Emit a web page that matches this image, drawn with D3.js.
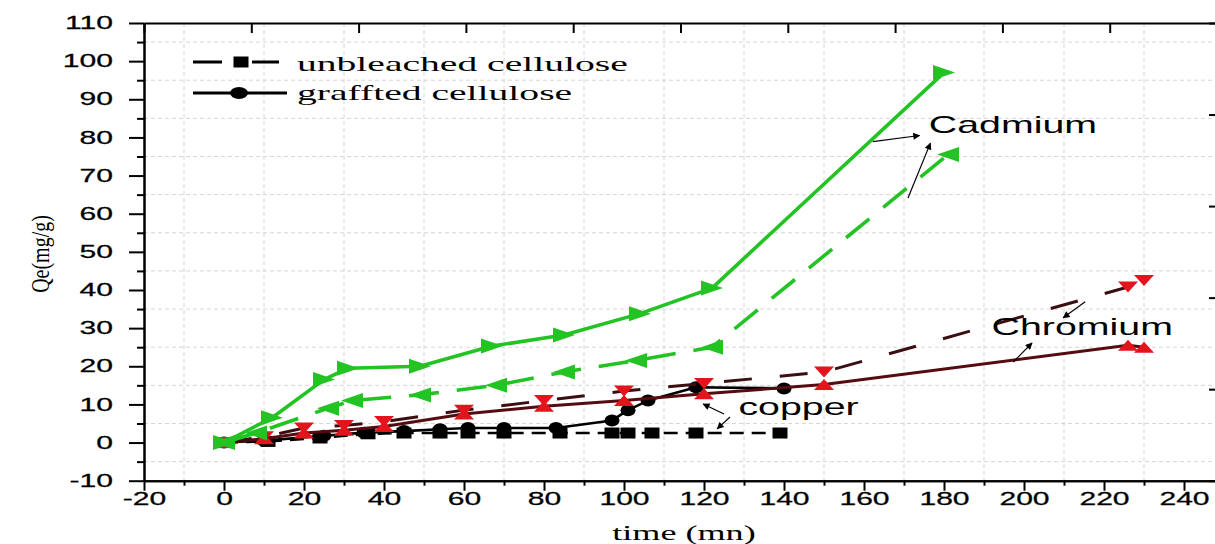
<!DOCTYPE html>
<html>
<head>
<meta charset="utf-8">
<script src="https://cdn.jsdelivr.net/npm/d3@7"></script>
<style>
  html, body { margin: 0; padding: 0; background: #ffffff; }
  svg { display: block; }
</style>
</head>
<body>
<svg id="chart" width="1215" height="544"></svg>
<script>
// Adsorption capacity Qe (mg/g) against contact time (mn)
// for unbleached (dashed) and grafted (solid) cellulose.

const xTickValues = [-20, 0, 20, 40, 60, 80, 100, 120, 140, 160, 180, 200, 220, 240];
const xMinorValues = [-10, 10, 30, 50, 70, 90, 110, 130, 150, 170, 190, 210, 230];
const yTickValues = [-10, 0, 10, 20, 30, 40, 50, 60, 70, 80, 90, 100, 110];
const yMinorValues = [-5, 5, 15, 25, 35, 45, 55, 65, 75, 85, 95, 105];

// Copper
const cuUnbleachedTime = [0, 11, 24, 36, 45, 54, 61, 70, 84, 97, 101, 107, 118, 139];
const cuUnbleachedQe   = [0, 0.3, 1.2, 2.3, 2.5, 2.5, 2.5, 2.5, 2.5, 2.5, 2.5, 2.5, 2.5, 2.5];
const cuGraftedTime    = [0, 10, 25, 35, 45, 54, 61, 70, 83, 97, 101, 106, 118, 140];
const cuGraftedQe      = [0, 0.5, 1.8, 2.6, 3.0, 3.5, 3.8, 3.8, 3.8, 5.8, 8.5, 11.0, 14.5, 14.2];

// Chromium
const crUnbleachedTime = [0, 10, 20, 30, 40, 60, 80, 100, 120, 150, 226, 230];
const crUnbleachedQe   = [0, 1.5, 3.8, 4.5, 5.5, 8.5, 11.0, 13.5, 15.5, 18.5, 40.8, 42.5];
const crGraftedTime    = [0, 10, 20, 30, 40, 60, 80, 100, 120, 150, 226, 230];
const crGraftedQe      = [0, 1.0, 2.5, 3.2, 4.2, 7.5, 9.5, 11.0, 12.8, 15.2, 25.5, 25.0];

// Cadmium
const cdUnbleachedTime = [0, 8, 26, 32, 49, 68, 85, 103, 122, 181];
const cdUnbleachedQe   = [0, 2.5, 9.0, 11.0, 12.5, 15.0, 18.5, 21.5, 25.0, 75.5];
const cdGraftedTime    = [0, 12, 25, 31, 49, 67, 85, 104, 122, 180];
const cdGraftedQe      = [0, 6.5, 16.5, 19.5, 20.0, 25.3, 28.2, 33.8, 40.5, 97.0];

const legendLabels = ["unbleached cellulose", "graffted cellulose"];

// Metal labels and their pointer arrows, in data units
const metalLabels = [
  { text: "Cadmium",  t: 176.2, v: 81.1 },
  { text: "Chromium", t: 191.9, v: 28.2 },
  { text: "copper",   t: 128.6, v: 7.2 }
];
const pointerArrows = [
  { t0: 162.2, v0: 78.9, t1: 173.9, v1: 80.5 },
  { t0: 171.0, v0: 64.1, t1: 176.6, v1: 78.5 },
  { t0: 215.3, v0: 36.9, t1: 209.8, v1: 32.7 },
  { t0: 197.3, v0: 21.1, t1: 202.0, v1: 26.1 },
  { t0: 125.0, v0: 7.5,  t1: 119.8, v1: 10.1 },
  { t0: 126.5, v0: 6.7,  t1: 123.3, v1: 3.6 }
];

const zip = (ts, vs) => ts.map((t, i) => ({ t: t, v: vs[i] }));

const svg = d3.select("#chart");
const plotLeft = 144, plotRight = 1217, plotTop = 23, plotBottom = 480.7;

const x = d3.scaleLinear().domain([-20, 248.25]).range([plotLeft, plotRight]);
const y = d3.scaleLinear().domain([-10, 110]).range([plotBottom, plotTop]);

const SANS = "'Liberation Sans', Arial, sans-serif";
const SERIF = "'Liberation Serif', 'Times New Roman', serif";
const TICK_SX = 1.72;
const plainNumber = d => String(d);

// ---- grid (at the minor positions) ----
const grid = svg.append("g").attr("stroke", "#d6d6d6").attr("stroke-width", 1)
  .attr("stroke-dasharray", "4,3");
grid.selectAll("line.vx").data(xMinorValues).join("line").attr("class", "vx")
  .attr("x1", d => x(d)).attr("x2", d => x(d)).attr("y1", plotTop).attr("y2", plotBottom);
grid.selectAll("line.hy").data(yMinorValues).join("line").attr("class", "hy")
  .attr("y1", d => y(d)).attr("y2", d => y(d)).attr("x1", plotLeft).attr("x2", plotRight);

// ---- axes ----
function styleAxis(g) {
  g.select(".domain").attr("stroke", "#000").attr("stroke-width", 2);
  g.selectAll(".tick line").attr("stroke", "#000").attr("stroke-width", 2);
}

const xAxis = svg.append("g").attr("transform", `translate(0,${plotBottom})`)
  .call(d3.axisBottom(x).tickValues(xTickValues).tickFormat(plainNumber)
    .tickSize(10).tickSizeOuter(0).tickPadding(1.5));
styleAxis(xAxis);
xAxis.selectAll(".tick text")
  .attr("font-family", SANS).attr("font-size", 17.5).attr("fill", "#000")
  .attr("stroke", "#000").attr("stroke-width", 0.25)
  .attr("transform", `scale(${TICK_SX},1)`);

const xMinor = svg.append("g").attr("transform", `translate(0,${plotBottom})`)
  .call(d3.axisBottom(x).tickValues(xMinorValues).tickSize(5).tickSizeOuter(0).tickFormat(""));
styleAxis(xMinor);

const yAxis = svg.append("g").attr("transform", `translate(${plotLeft},0)`)
  .call(d3.axisLeft(y).tickValues(yTickValues).tickFormat(plainNumber)
    .tickSize(15).tickSizeOuter(0).tickPadding(16));
styleAxis(yAxis);
yAxis.selectAll(".tick text")
  .attr("font-family", SANS).attr("font-size", 17.5).attr("fill", "#000")
  .attr("stroke", "#000").attr("stroke-width", 0.25)
  .attr("x", -31 / TICK_SX)
  .attr("transform", `scale(${TICK_SX},1)`);

const yMinor = svg.append("g").attr("transform", `translate(${plotLeft},0)`)
  .call(d3.axisLeft(y).tickValues(yMinorValues).tickSize(7).tickSizeOuter(0).tickFormat(""));
styleAxis(yMinor);

// frame: top and right axes with evenly spaced inner ticks
const topScale = d3.scaleLinear().domain([0, 10]).range([plotLeft, plotRight]);
const topAxis = svg.append("g").attr("transform", `translate(0,${plotTop})`)
  .call(d3.axisTop(topScale).ticks(10).tickSize(-10).tickSizeOuter(0).tickFormat(""));
styleAxis(topAxis);
const rightScale = d3.scaleLinear().domain([0, 5]).range([plotBottom, plotTop]);
const rightAxis = svg.append("g").attr("transform", `translate(${plotRight},0)`)
  .call(d3.axisRight(rightScale).ticks(5).tickSize(-8).tickSizeOuter(0).tickFormat(""));
styleAxis(rightAxis);

// ---- marker shapes (pixel offsets around the data point) ----
const shapes = {
  triRight: (w, h) => `M${-w/2},${-h/2}L${w/2},0L${-w/2},${h/2}Z`,
  triLeft:  (w, h) => `M${w/2},${-h/2}L${-w/2},0L${w/2},${h/2}Z`,
  triUp:    (w, h) => `M${-w/2},${h/2}L0,${-h/2}L${w/2},${h/2}Z`,
  triDown:  (w, h) => `M${-w/2},${-h/2}L${w/2},${-h/2}L0,${h/2}Z`,
  square:   (w, h) => `M${-w/2},${-h/2}H${w/2}V${h/2}H${-w/2}Z`,
  ellipse:  (w, h) => `M${-w/2},0A${w/2},${h/2} 0 1,0 ${w/2},0A${w/2},${h/2} 0 1,0 ${-w/2},0Z`
};

const line = d3.line().x(d => x(d.t)).y(d => y(d.v));

function drawSeries(data, o) {
  const g = svg.append("g");
  g.append("path").datum(data)
    .attr("d", line)
    .attr("fill", "none")
    .attr("stroke", o.lineColor)
    .attr("stroke-width", o.lineWidth)
    .attr("stroke-linejoin", "round")
    .attr("stroke-dasharray", o.dash || null);
  g.selectAll("path.mk").data(data).join("path")
    .attr("class", "mk")
    .attr("transform", d => `translate(${x(d.t)},${y(d.v)})`)
    .attr("d", shapes[o.shape](o.w, o.h))
    .attr("fill", o.markColor);
}

// copper
drawSeries(zip(cuUnbleachedTime, cuUnbleachedQe),
  { lineColor: "#000", lineWidth: 2.6, dash: "14,8", shape: "square", w: 15, h: 11, markColor: "#000" });
drawSeries(zip(cuGraftedTime, cuGraftedQe),
  { lineColor: "#000", lineWidth: 2.6, shape: "ellipse", w: 15, h: 12, markColor: "#000" });

// chromium
drawSeries(zip(crGraftedTime, crGraftedQe),
  { lineColor: "#560b10", lineWidth: 3, shape: "triUp", w: 20, h: 11, markColor: "#e4141c" });
drawSeries(zip(crUnbleachedTime, crUnbleachedQe),
  { lineColor: "#3b0f12", lineWidth: 3, dash: "28,28", shape: "triDown", w: 20, h: 11, markColor: "#e4141c" });

// cadmium
drawSeries(zip(cdUnbleachedTime, cdUnbleachedQe),
  { lineColor: "#22c322", lineWidth: 3.6, dash: "30,18", shape: "triLeft", w: 22, h: 15, markColor: "#22c322" });
drawSeries(zip(cdGraftedTime, cdGraftedQe),
  { lineColor: "#22c322", lineWidth: 3.6, shape: "triRight", w: 22, h: 15, markColor: "#22c322" });

// ---- metal labels with pointer arrows ----
svg.append("defs").append("marker")
  .attr("id", "head").attr("viewBox", "0 0 10 10").attr("refX", 9).attr("refY", 5)
  .attr("markerWidth", 9).attr("markerHeight", 7).attr("orient", "auto")
  .attr("markerUnits", "userSpaceOnUse")
  .append("path").attr("d", "M0,0L10,5L0,10Z").attr("fill", "#000");

svg.append("g").selectAll("line").data(pointerArrows).join("line")
  .attr("x1", d => x(d.t0)).attr("y1", d => y(d.v0))
  .attr("x2", d => x(d.t1)).attr("y2", d => y(d.v1))
  .attr("stroke", "#000").attr("stroke-width", 1.2)
  .attr("marker-end", "url(#head)");

const LABEL_SX = 1.71;
svg.append("g").selectAll("text").data(metalLabels).join("text")
  .attr("transform", d => `translate(${x(d.t)},${y(d.v)}) scale(${LABEL_SX},1)`)
  .attr("font-family", SANS).attr("font-size", 23).attr("fill", "#000")
  .text(d => d.text);

// ---- legend ----
const LEGEND_SX = 1.8;
const legend = svg.append("g");
legend.append("line").attr("x1", 193).attr("x2", 279).attr("y1", 62).attr("y2", 62)
  .attr("stroke", "#000").attr("stroke-width", 3).attr("stroke-dasharray", "29,30");
legend.append("path").attr("transform", "translate(241,62)").attr("d", shapes.square(15, 11)).attr("fill", "#000");
legend.append("line").attr("x1", 193).attr("x2", 287).attr("y1", 93).attr("y2", 93)
  .attr("stroke", "#000").attr("stroke-width", 3);
legend.append("path").attr("transform", "translate(239,93)").attr("d", shapes.ellipse(18, 12)).attr("fill", "#000");
legend.selectAll("text").data(legendLabels).join("text")
  .attr("transform", (d, i) => `translate(297,${i === 0 ? 71 : 100}) scale(${LEGEND_SX},1)`)
  .attr("font-family", SERIF).attr("font-size", 22).attr("fill", "#000")
  .text(d => d);

// ---- axis titles ----
svg.append("text")
  .attr("transform", `translate(684,540) scale(1.72,1)`)
  .attr("text-anchor", "middle")
  .attr("font-family", SERIF).attr("font-size", 21).attr("fill", "#000")
  .text("time (mn)");

svg.append("text")
  .attr("transform", `translate(40,254) scale(1.3,1) rotate(-90)`)
  .attr("text-anchor", "middle").attr("dy", "0.35em")
  .attr("font-family", SERIF).attr("font-size", 20).attr("fill", "#000")
  .text("Qe(mg/g)");
</script>
</body>
</html>
